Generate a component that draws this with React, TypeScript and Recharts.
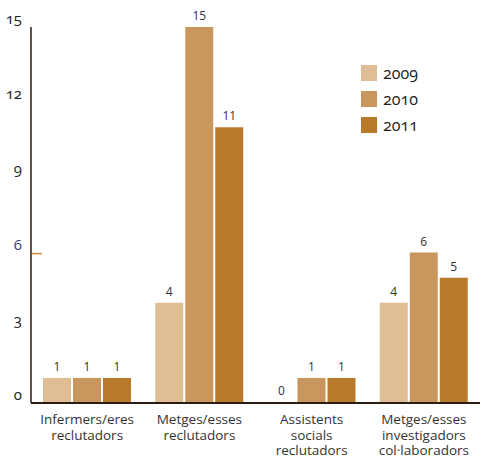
import React from "react";
import { BarChart, Bar, XAxis, YAxis, LabelList, Rectangle } from "recharts";

const categories = [
  "Infermers/eres\nreclutadors",
  "Metges/esses\nreclutadors",
  "Assistents\nsocials\nreclutadors",
  "Metges/esses\ninvestigadors\ncol·laboradors",
];
const v2009 = [1, 4, 0, 4];
const v2010 = [1, 15, 1, 6];
const v2011 = [1, 11, 1, 5];
const yTicks = [0, 3, 6, 9, 12, 15];
const years = ["2009", "2010", "2011"];
const colors = ["#dfbe96", "#c9975e", "#b87a2a"];

const data = categories.map((c, i) => ({
  cat: c,
  y2009: v2009[i],
  y2010: v2010[i],
  y2011: v2011[i],
}));

const font = "'Open Sans', 'Noto Sans', sans-serif";

function XTick(props: any) {
  const { x, payload } = props;
  const lines = String(payload.value).split("\n");
  return (
    <g>
      {lines.map((l: string, i: number) => (
        <text key={i} x={x} y={424 + i * 15.5} textAnchor="middle" fontSize={13.5} fill="#333" fontFamily={font}>
          {l}
        </text>
      ))}
    </g>
  );
}

function YTick(props: any) {
  const { y, payload } = props;
  const special = payload.value === 6;
  return (
    <g>
      {special && <line x1={32} x2={42} y1={y + 1} y2={y + 1} stroke="#d08a3c" strokeWidth={1.5} />}
      <text x={22} y={y - 3} textAnchor="end" fontSize={15} fill={special ? "#3f3a7c" : "#222"} fontFamily={font}
        style={{ fontVariantNumeric: "oldstyle-nums" }}>
        {payload.value}
      </text>
    </g>
  );
}

// zero values still get a label, but no visible bar
function BarShape(props: any) {
  if (!props.value) return null;
  return <Rectangle {...props} />;
}

export default function App() {
  return (
    <div style={{ position: "absolute", left: 0, top: 0, width: 480, height: 458, background: "#fff" }}>
      <BarChart width={480} height={458} data={data} margin={{ top: 27, right: 0, left: 0, bottom: 0 }}
        barSize={28} barGap={2}>
        <XAxis dataKey="cat" interval={0} tickLine={false} axisLine={{ stroke: "#2b1d10", strokeWidth: 2 }}
          tick={<XTick />} height={55} />
        <YAxis domain={[0, 15]} ticks={yTicks} width={31} tickLine={false}
          axisLine={{ stroke: "#2b1d10", strokeWidth: 1.5 }} tick={<YTick />} />
        {["y2009", "y2010", "y2011"].map((k, i) => (
          <Bar key={k} dataKey={k} fill={colors[i]} isAnimationActive={false} minPointSize={1} shape={<BarShape />}>
            <LabelList dataKey={k} position="top" offset={7} fontSize={12} fill="#333" fontFamily={font} />
          </Bar>
        ))}
      </BarChart>
      <div style={{ position: "absolute", left: 361, top: 60, fontFamily: font }}>
        {years.map((y, i) => (
          <div key={y} style={{ display: "flex", alignItems: "center", height: 26 }}>
            <div style={{ width: 16, height: 16, background: colors[i], marginRight: 6 }} />
            <span style={{ fontSize: 16, color: "#222", fontVariantNumeric: "oldstyle-nums" }}>{y}</span>
          </div>
        ))}
      </div>
    </div>
  );
}
